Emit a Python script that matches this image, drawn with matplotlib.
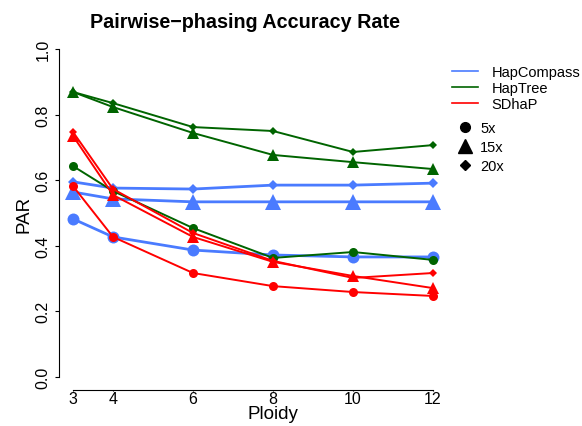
import matplotlib
matplotlib.use('Agg')
import matplotlib.pyplot as plt
from matplotlib.lines import Line2D

plt.rcParams['font.family'] = ['Liberation Sans', 'DejaVu Sans']

ploidy = [3, 4, 6, 8, 10, 12]
tools = ['HapCompass', 'HapTree', 'SDhaP']
coverages = ['5x', '15x', '20x']

# PAR values
hapcompass_5x = [0.482, 0.427, 0.387, 0.372, 0.366, 0.366]
hapcompass_15x = [0.564, 0.543, 0.534, 0.534, 0.534, 0.534]
hapcompass_20x = [0.595, 0.576, 0.573, 0.585, 0.585, 0.591]
haptree_5x = [0.643, 0.567, 0.454, 0.363, 0.381, 0.357]
haptree_15x = [0.869, 0.823, 0.744, 0.677, 0.655, 0.634]
haptree_20x = [0.869, 0.835, 0.762, 0.750, 0.686, 0.707]
sdhap_5x = [0.582, 0.427, 0.317, 0.277, 0.259, 0.247]
sdhap_15x = [0.735, 0.555, 0.427, 0.351, 0.308, 0.271]
sdhap_20x = [0.747, 0.573, 0.439, 0.354, 0.302, 0.317]

colors = {'HapCompass': '#4a7bff', 'HapTree': '#006400', 'SDhaP': '#ff0000'}
markers = {'5x': 'o', '15x': '^', '20x': 'D'}
series = {
    'HapCompass': [hapcompass_5x, hapcompass_15x, hapcompass_20x],
    'HapTree': [haptree_5x, haptree_15x, haptree_20x],
    'SDhaP': [sdhap_5x, sdhap_15x, sdhap_20x],
}

fig = plt.figure(figsize=(5.82, 4.27), dpi=100)
ax = fig.add_axes([0.1007, 0.0841, 0.668, 0.8295])

for tool in tools:
    big = tool == 'HapCompass'
    lw = 2.0 if big else 1.4
    for cov, vals in zip(coverages, series[tool]):
        m = markers[cov]
        if m == 'o':
            ms = 8.6 if big else 6.5
        elif m == '^':
            ms = 12 if big else 8.8
        else:
            ms = 5.6 if big else 4.4
        ax.plot(ploidy, vals, color=colors[tool], lw=lw, marker=m,
                markersize=ms, markeredgewidth=0)

ax.set_xlim(2.64, 12.36)
ax.set_ylim(-0.04, 1.04)
ax.set_xticks(ploidy)
ax.set_yticks([0.0, 0.2, 0.4, 0.6, 0.8, 1.0])
ax.set_yticklabels(['0.0', '0.2', '0.4', '0.6', '0.8', '1.0'], rotation=90, va='center')
ax.tick_params(axis='y', length=3, width=0.8, pad=3, labelsize=11.5)
ax.tick_params(axis='x', length=1, width=0.8, pad=0, labelsize=11.5)
for s in ['top', 'right']:
    ax.spines[s].set_visible(False)
ax.spines['left'].set_bounds(0, 1)
ax.spines['bottom'].set_bounds(3, 12)
ax.spines['left'].set_linewidth(0.8)
ax.spines['bottom'].set_linewidth(0.8)

fig.text(244.5 / 582, 1 - 22 / 427, 'Pairwise\u2212phasing Accuracy Rate',
         ha='center', va='center', fontsize=14.2, fontweight='bold')
fig.text(273 / 582, 1 - 419 / 427, 'Ploidy', ha='center', va='baseline', fontsize=13.5)
fig.text(24 / 582, 1 - 214 / 427, 'PAR', ha='center', va='center', fontsize=13.5, rotation=90)

line_handles = [Line2D([], [], color=colors[t], lw=1.2) for t in tools]
fig.legend(line_handles, tools, loc='upper left', bbox_to_anchor=(452 / 582, 1 - 66 / 427),
           frameon=False, fontsize=10.5, handlelength=1.8, handletextpad=0.9,
           labelspacing=0.13, borderpad=0, borderaxespad=0)
mark_handles = [Line2D([], [], color='black', lw=0, marker=markers[c],
                       markersize={'5x': 7, '15x': 9.5, '20x': 4.8}[c]) for c in coverages]
fig.legend(mark_handles, coverages, loc='upper left', bbox_to_anchor=(459 / 582, 1 - 122 / 427),
           frameon=False, fontsize=10.5, handlelength=0.8, handletextpad=0.65,
           labelspacing=0.33, borderpad=0, borderaxespad=0)

fig.savefig('out.png', dpi=100)
